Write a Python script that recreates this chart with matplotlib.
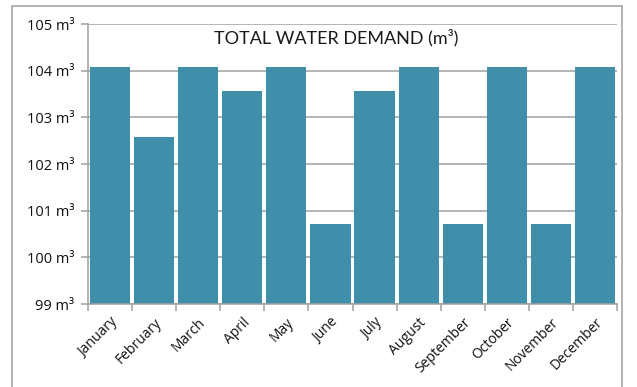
import matplotlib.pyplot as plt
from matplotlib.patches import Rectangle

# monthly demand values
months = ['January', 'February', 'March', 'April', 'May', 'June',
          'July', 'August', 'September', 'October', 'November', 'December']
demand = [104.07, 102.57, 104.07, 103.57, 104.07, 100.71,
          103.57, 104.07, 100.71, 104.07, 100.71, 104.07]
y_ticks = [99, 100, 101, 102, 103, 104, 105]
y_labels = [f'{v} m³' for v in y_ticks]

plt.rcParams['font.family'] = ['Open Sans', 'DejaVu Sans']

W, H = 637, 387
fig = plt.figure(figsize=(W / 100, H / 100), dpi=100)
ax = fig.add_axes([88 / W, 1 - 304 / H, (617 - 88) / W, (304 - 24) / H])

# outer frame of the chart area
fig.patches.append(Rectangle((12 / W, -0.05), (622 - 12) / W, 1 - 6 / H + 0.05,
                             transform=fig.transFigure, fill=False,
                             edgecolor='#a6a6a6', linewidth=1.2))

x = list(range(len(months)))
ax.bar(x, demand, width=0.91, color='#3f8fab', zorder=2)

ax.set_xlim(-0.5, len(months) - 0.5)
ax.set_ylim(99, 105)
ax.set_yticks(y_ticks)
ax.set_yticklabels(y_labels, fontsize=10.5, color='#111111')
ax.yaxis.grid(True, color='#a0a0a0', linewidth=1.1, zorder=1)
ax.set_axisbelow(True)

# category ticks between bars, labels centered under bars
ax.set_xticks([i - 0.5 for i in range(len(months) + 1)])
ax.set_xticklabels([])
ax.set_xticks(x, minor=True)
ax.set_xticklabels(months, minor=True, rotation=45, ha='right',
                   rotation_mode='anchor', fontsize=10, color='#111111')
ax.tick_params(axis='x', which='major', length=5, color='#a0a0a0', width=1.1)
ax.tick_params(axis='x', which='minor', length=0, pad=8)
ax.tick_params(axis='y', length=5, color='#a0a0a0', width=1.1, pad=5)

for s in ['top', 'right']:
    ax.spines[s].set_visible(False)
for s in ['left', 'bottom']:
    ax.spines[s].set_color('#a0a0a0')
    ax.spines[s].set_linewidth(1.1)

ax.text(0.47, 0.95, 'TOTAL WATER DEMAND (m³)', transform=ax.transAxes,
        ha='center', va='center', fontsize=13, color='#1a1a1a',
        family=['Lato', 'DejaVu Sans'], fontweight='normal')

fig.savefig('out.png', dpi=100)
